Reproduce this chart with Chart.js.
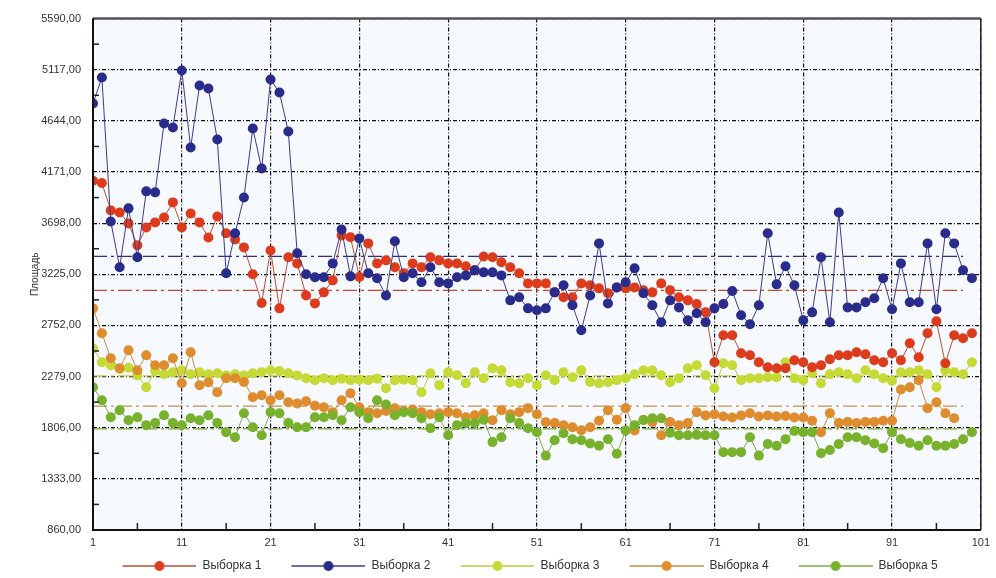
<!DOCTYPE html>
<html>
<head>
<meta charset="utf-8">
<script src="https://cdn.jsdelivr.net/npm/chart.js@4.4.1/dist/chart.umd.min.js"></script>
<style>
html, body { margin: 0; padding: 0; background: #fff; }
</style>
</head>
<body>
<canvas id="grafico" width="996" height="578"></canvas>
<script>
// ticks
var xTicks = [1, 11, 21, 31, 41, 51, 61, 71, 81, 91, 101];
var yTicks = [860, 1333, 1806, 2279, 2752, 3225, 3698, 4171, 4644, 5117, 5590];

var nomes = ['Выборка 1', 'Выборка 2', 'Выборка 3', 'Выборка 4', 'Выборка 5'];
var tituloY = 'Площадь';

// Выборка 1
var amostra1 = [4090,4070,3816,3797,3696,3493,3659,3705,3751,3890,
  3659,3788,3705,3566,3760,3604,3548,3474,3225,2960,
  3446,2910,3382,3326,3030,2956,3058,3169,3585,3567,
  3200,3511,3326,3354,3290,3234,3326,3290,3382,3354,
  3326,3326,3300,3262,3390,3382,3336,3290,3234,3141,
  3141,3141,3058,3012,3012,3141,3123,3095,3049,3104,
  3095,3104,3077,3058,3141,3077,3012,2984,2950,2873,
  2411,2661,2661,2495,2476,2411,2365,2356,2356,2430,
  2411,2365,2384,2440,2476,2476,2504,2485,2430,2411,
  2494,2430,2587,2458,2679,2790,2402,2661,2633,2679];

// Выборка 2
var amostra2 = [4805,5045,3714,3290,3835,3382,3992,3983,4620,4583,
  5110,4398,4971,4943,4472,3234,3604,3936,4574,4204,
  5026,4906,4546,3419,3225,3197,3197,3326,3640,3206,
  3557,3234,3188,3030,3530,3197,3234,3151,3290,3151,
  3141,3197,3215,3262,3243,3243,3215,2984,3012,2910,
  2892,2910,3058,3123,2938,2707,3030,3511,2956,3104,
  3151,3280,3049,2938,2781,2984,2919,2799,2864,2781,
  2910,2950,3070,2846,2763,2938,3604,3132,3299,3123,
  2799,2873,3382,2781,3797,2919,2919,2966,3003,3188,
  2901,3326,2966,2966,3511,2901,3604,3511,3262,3188];

// Выборка 3
var amostra3 = [2540,2411,2383,2350,2360,2290,2181,2330,2300,2320,
  2338,2300,2320,2300,2310,2290,2300,2290,2310,2320,
  2338,2330,2310,2290,2264,2245,2264,2245,2260,2245,
  2250,2245,2260,2171,2245,2250,2245,2134,2310,2199,
  2319,2291,2217,2319,2264,2356,2338,2227,2217,2264,
  2199,2291,2245,2319,2273,2338,2230,2217,2227,2245,
  2264,2300,2338,2338,2291,2227,2264,2356,2383,2291,
  2171,2402,2383,2245,2264,2264,2273,2273,2411,2264,
  2245,2310,2217,2300,2319,2300,2264,2338,2300,2264,
  2240,2319,2319,2338,2300,2180,2338,2319,2300,2411];

// Выборка 4
var amostra4 = [2910,2680,2448,2356,2522,2338,2476,2383,2383,2448,
  2217,2504,2199,2227,2134,2264,2264,2230,2088,2107,
  2060,2107,2042,2030,2050,2010,1996,1950,2060,2125,
  1996,1950,1940,1960,1985,1960,1975,1950,1930,1940,
  1950,1940,1903,1922,1940,1875,1968,1930,1950,1987,
  1930,1857,1850,1829,1810,1783,1810,1870,1968,1880,
  1987,1780,1880,1860,1737,1860,1830,1850,1950,1920,
  1930,1910,1900,1920,1940,1910,1920,1910,1915,1900,
  1900,1870,1765,1940,1850,1860,1850,1860,1860,1870,
  1870,2160,2180,2245,1987,2042,1940,1894,null,null];

// Выборка 5
var amostra5 = [2181,2060,1903,1968,1875,1903,1829,1850,1922,1850,
  1829,1894,1875,1922,1850,1765,1718,1940,1811,1737,
  1950,1940,1850,1811,1811,1903,1903,1922,1875,1996,
  1950,1894,2060,2020,1922,1950,1940,1894,1802,1903,
  1737,1830,1850,1850,1880,1673,1718,1894,1850,1802,
  1765,1548,1690,1755,1700,1690,1660,1640,1700,1565,
  1780,1830,1875,1894,1894,1760,1737,1737,1740,1737,
  1737,1580,1580,1580,1718,1548,1655,1640,1700,1775,
  1765,1765,1571,1600,1655,1718,1718,1690,1660,1617,
  1765,1700,1665,1640,1690,1640,1640,1655,1700,1765];

// linhas de media
var medias = [3077, 3391, 2285, 2005, 1795];
var mediaInicio = 1;
var mediaFim = 99;

var cores = ['#dc3c1c', '#2a2c8c', '#c6da36', '#de8c2e', '#78b22c'];
var coresLinha = ['#b8503a', '#3c3c8a', '#bccc40', '#c88c48', '#80a848'];
var coresMedia = ['#c04a2a', '#2e2e88', '#c8d040', '#c89050', '#7aaa3a'];

var amostras = [amostra1, amostra2, amostra3, amostra4, amostra5];
var ordem = [1, 0, 4, 3, 2];

function pontos(valores) {
  return valores.map(function (v, i) { return { x: i + 1, y: v }; });
}

function amostraLegenda(cor, corLinha) {
  var c = document.createElement('canvas');
  c.width = 94;
  c.height = 12;
  var g = c.getContext('2d');
  g.strokeStyle = corLinha;
  g.lineWidth = 1.5;
  g.beginPath();
  g.moveTo(20, 6);
  g.lineTo(94, 6);
  g.stroke();
  g.fillStyle = cor;
  g.beginPath();
  g.arc(57, 6, 5, 0, Math.PI * 2);
  g.fill();
  return c;
}

var datasets = [];
for (var k = 0; k < 5; k++) {
  datasets.push({
    label: nomes[k],
    data: pontos(amostras[k]),
    borderColor: coresLinha[k],
    backgroundColor: cores[k],
    pointBackgroundColor: cores[k],
    pointBorderColor: cores[k],
    borderWidth: 1,
    pointRadius: 5,
    pointBorderWidth: 0,
    tension: 0,
    spanGaps: false,
    order: ordem[k]
  });
}
for (var m = 0; m < 5; m++) {
  datasets.push({
    label: 'media' + (m + 1),
    data: [{ x: mediaInicio, y: medias[m] }, { x: mediaFim, y: medias[m] }],
    borderColor: coresMedia[m],
    borderWidth: 1.2,
    borderDash: [14, 4, 3, 4],
    pointRadius: 0,
    order: 10
  });
}

var moldura = {
  id: 'moldura',
  afterLayout: function (chart) {
    // legenda deslocada para a direita como no original
    chart.legend.left += 44;
    chart.legend.top += 4;
  },
  beforeDraw: function (chart) {
    var a = chart.chartArea, ctx = chart.ctx;
    ctx.save();
    ctx.fillStyle = '#f6f9fd';
    ctx.fillRect(a.left, a.top, a.right - a.left, a.bottom - a.top);
    ctx.restore();
  },
  afterDraw: function (chart) {
    var a = chart.chartArea, ctx = chart.ctx;
    var sx = chart.scales.x, sy = chart.scales.y;
    ctx.save();
    // marcas menores
    ctx.strokeStyle = '#222';
    ctx.lineWidth = 1.5;
    for (var i = 0; i < yTicks.length - 1; i++) {
      var yy = sy.getPixelForValue((yTicks[i] + yTicks[i + 1]) / 2);
      ctx.beginPath();
      ctx.moveTo(a.left, yy);
      ctx.lineTo(a.left + 6, yy);
      ctx.stroke();
    }
    for (var j = 0; j < xTicks.length - 1; j++) {
      var xx = sx.getPixelForValue((xTicks[j] + xTicks[j + 1]) / 2);
      ctx.beginPath();
      ctx.moveTo(xx, a.bottom);
      ctx.lineTo(xx, a.bottom - 7);
      ctx.stroke();
    }
    // bordas
    ctx.strokeStyle = '#555';
    ctx.lineWidth = 2.5;
    ctx.beginPath();
    ctx.moveTo(a.left, a.top);
    ctx.lineTo(a.right, a.top);
    ctx.stroke();
    ctx.strokeStyle = '#222';
    ctx.lineWidth = 1.5;
    ctx.beginPath();
    ctx.moveTo(a.right, a.top);
    ctx.lineTo(a.right, a.bottom);
    ctx.stroke();
    ctx.strokeStyle = '#111';
    ctx.lineWidth = 2;
    ctx.beginPath();
    ctx.moveTo(a.left, a.top);
    ctx.lineTo(a.left, a.bottom);
    ctx.lineTo(a.right, a.bottom);
    ctx.stroke();
    // titulo do eixo y
    ctx.fillStyle = '#333';
    ctx.font = '10px "Liberation Sans", Arial, sans-serif';
    ctx.textAlign = 'center';
    ctx.textBaseline = 'middle';
    ctx.translate(35, (a.top + a.bottom) / 2);
    ctx.rotate(-Math.PI / 2);
    ctx.fillText(tituloY, 0, 0);
    ctx.restore();
  }
};

Chart.defaults.font.family = '"Liberation Sans", Arial, sans-serif';
Chart.defaults.font.size = 11;
Chart.defaults.color = '#333';

var ctx = document.getElementById('grafico').getContext('2d');
var grafico = new Chart(ctx, {
  type: 'line',
  data: { datasets: datasets },
  options: {
    responsive: false,
    animation: false,
    layout: { padding: { left: 0, right: 0, top: 18, bottom: 0 } },
    plugins: {
      tooltip: { enabled: false },
      legend: {
        position: 'bottom',
        labels: {
          usePointStyle: true,
          pointStyleWidth: 94,
          padding: 10,
          font: { size: 12 },
          color: '#333',
          generateLabels: function (chart) {
            var itens = Chart.defaults.plugins.legend.labels.generateLabels(chart);
            itens = itens.filter(function (it) { return it.datasetIndex < 5; });
            itens.sort(function (a, b) { return a.datasetIndex - b.datasetIndex; });
            itens.forEach(function (it) {
              it.pointStyle = amostraLegenda(cores[it.datasetIndex], coresLinha[it.datasetIndex]);
            });
            return itens;
          }
        }
      }
    },
    scales: {
      x: {
        type: 'linear',
        min: 1,
        max: 101,
        afterBuildTicks: function (scale) {
          scale.ticks = xTicks.map(function (v) { return { value: v }; });
        },
        afterFit: function (scale) { scale.height = 16; },
        grid: { color: '#111', lineWidth: 1.2, drawTicks: false },
        border: { display: false, dash: [4, 2, 1, 2] },
        ticks: { padding: 6, maxRotation: 0, autoSkip: false, font: { size: 11 } }
      },
      y: {
        min: 860,
        max: 5590,
        afterBuildTicks: function (scale) {
          scale.ticks = yTicks.map(function (v) { return { value: v }; });
        },
        afterFit: function (scale) { scale.width = 93; },
        grid: { color: '#111', lineWidth: 1.2, drawTicks: false },
        border: { display: false, dash: [4, 2, 1, 2] },
        ticks: {
          padding: 12,
          autoSkip: false,
          font: { size: 11 },
          callback: function (v) { return v.toFixed(2).replace('.', ','); }
        }
      }
    }
  },
  plugins: [moldura]
});
</script>
</body>
</html>
